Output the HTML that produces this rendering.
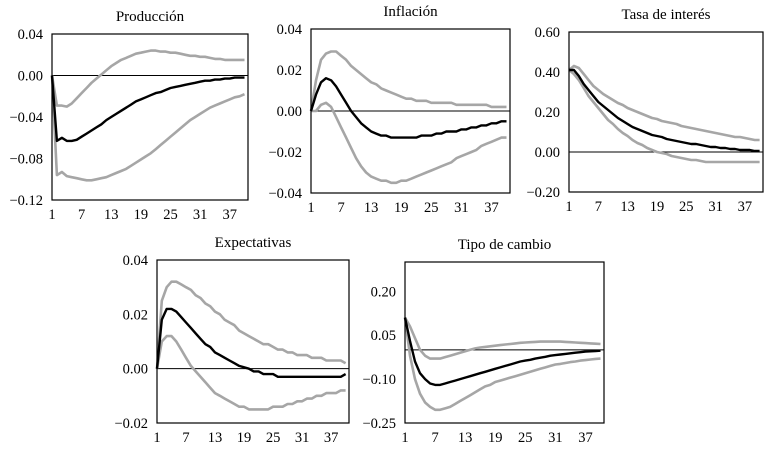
<!DOCTYPE html>
<html><head><meta charset="utf-8"><style>
body{margin:0;background:#fff;width:772px;height:456px;overflow:hidden}
svg{display:block;font-family:"Liberation Serif",serif}
</style></head><body>
<svg id="c" width="772" height="456"></svg>
<script>
const periods = Array.from({length:40},(_,i)=>i+1);
const xTickLabels = [1,7,13,19,25,31,37];
const titles = ["Producción","Inflación","Tasa de interés","Expectativas","Tipo de cambio"];
const yTicks1 = [0.04,0.00,-0.04,-0.08,-0.12];
const yTicks2 = [0.04,0.02,0.00,-0.02,-0.04];
const yTicks3 = [0.60,0.40,0.20,0.00,-0.20];
const yTicks4 = [0.04,0.02,0.00,-0.02];
const yTicks5 = [0.20,0.05,-0.10,-0.25];
const prodMid = [0,-0.063,-0.060,-0.063,-0.063,-0.062,-0.059,-0.056,-0.053,-0.050,-0.047,-0.043,-0.040,-0.037,-0.034,-0.031,-0.028,-0.025,-0.023,-0.021,-0.019,-0.017,-0.016,-0.014,-0.012,-0.011,-0.010,-0.009,-0.008,-0.007,-0.006,-0.005,-0.005,-0.004,-0.004,-0.003,-0.003,-0.002,-0.002,-0.002];
const prodUp = [0,-0.029,-0.029,-0.030,-0.027,-0.022,-0.017,-0.012,-0.007,-0.003,0.001,0.005,0.009,0.012,0.015,0.017,0.019,0.021,0.022,0.023,0.024,0.024,0.023,0.023,0.022,0.022,0.021,0.020,0.019,0.019,0.018,0.018,0.017,0.016,0.016,0.015,0.015,0.015,0.015,0.015];
const prodLo = [0,-0.096,-0.093,-0.097,-0.098,-0.099,-0.100,-0.101,-0.101,-0.100,-0.099,-0.098,-0.096,-0.094,-0.092,-0.090,-0.087,-0.084,-0.081,-0.078,-0.075,-0.071,-0.067,-0.063,-0.059,-0.055,-0.051,-0.047,-0.043,-0.040,-0.037,-0.034,-0.031,-0.029,-0.027,-0.025,-0.023,-0.021,-0.020,-0.018];
const infMid = [0,0.008,0.014,0.016,0.015,0.012,0.008,0.004,0.000,-0.003,-0.006,-0.008,-0.010,-0.011,-0.012,-0.012,-0.013,-0.013,-0.013,-0.013,-0.013,-0.013,-0.012,-0.012,-0.012,-0.011,-0.011,-0.010,-0.010,-0.010,-0.009,-0.009,-0.008,-0.008,-0.007,-0.007,-0.006,-0.006,-0.005,-0.005];
const infUp = [0,0.015,0.025,0.028,0.029,0.029,0.027,0.025,0.022,0.020,0.018,0.016,0.014,0.013,0.011,0.010,0.009,0.008,0.007,0.006,0.006,0.005,0.005,0.005,0.004,0.004,0.004,0.004,0.004,0.003,0.003,0.003,0.003,0.003,0.003,0.003,0.002,0.002,0.002,0.002];
const infLo = [0,0.000,0.003,0.004,0.002,-0.003,-0.008,-0.013,-0.018,-0.023,-0.027,-0.030,-0.032,-0.033,-0.034,-0.034,-0.035,-0.035,-0.034,-0.034,-0.033,-0.032,-0.031,-0.030,-0.029,-0.028,-0.027,-0.026,-0.025,-0.023,-0.022,-0.021,-0.020,-0.019,-0.017,-0.016,-0.015,-0.014,-0.013,-0.013];
const tasaMid = [0.41,0.41,0.38,0.34,0.31,0.28,0.25,0.23,0.21,0.19,0.17,0.155,0.14,0.125,0.115,0.105,0.095,0.085,0.08,0.075,0.065,0.06,0.055,0.05,0.045,0.04,0.04,0.035,0.03,0.025,0.025,0.02,0.02,0.015,0.015,0.01,0.01,0.01,0.005,0.005];
const tasaUp = [0.41,0.43,0.42,0.39,0.36,0.33,0.31,0.29,0.275,0.26,0.245,0.235,0.22,0.21,0.2,0.19,0.18,0.17,0.165,0.155,0.15,0.145,0.14,0.13,0.125,0.12,0.115,0.11,0.105,0.1,0.095,0.09,0.085,0.08,0.075,0.075,0.07,0.065,0.06,0.06];
const tasaLo = [0.41,0.39,0.36,0.32,0.28,0.25,0.22,0.19,0.16,0.14,0.115,0.095,0.08,0.06,0.045,0.035,0.02,0.01,0.0,-0.005,-0.01,-0.02,-0.025,-0.03,-0.035,-0.04,-0.04,-0.045,-0.05,-0.05,-0.05,-0.05,-0.05,-0.05,-0.05,-0.05,-0.05,-0.05,-0.05,-0.05];
const expMid = [0,0.018,0.022,0.022,0.021,0.019,0.017,0.015,0.013,0.011,0.009,0.008,0.006,0.005,0.004,0.003,0.002,0.001,0.0005,0,-0.001,-0.001,-0.002,-0.002,-0.002,-0.003,-0.003,-0.003,-0.003,-0.003,-0.003,-0.003,-0.003,-0.003,-0.003,-0.003,-0.003,-0.003,-0.003,-0.002];
const expUp = [0,0.025,0.030,0.032,0.032,0.031,0.030,0.029,0.027,0.026,0.024,0.023,0.021,0.020,0.018,0.017,0.016,0.014,0.013,0.012,0.011,0.010,0.009,0.009,0.008,0.007,0.007,0.006,0.006,0.005,0.005,0.005,0.004,0.004,0.004,0.003,0.003,0.003,0.003,0.002];
const expLo = [0,0.010,0.012,0.012,0.010,0.007,0.004,0.001,-0.001,-0.003,-0.005,-0.007,-0.009,-0.010,-0.011,-0.012,-0.013,-0.014,-0.014,-0.015,-0.015,-0.015,-0.015,-0.015,-0.014,-0.014,-0.014,-0.013,-0.013,-0.012,-0.012,-0.011,-0.011,-0.010,-0.010,-0.009,-0.009,-0.009,-0.008,-0.008];
const tcMid = [0.11,0.03,-0.04,-0.08,-0.10,-0.115,-0.12,-0.12,-0.115,-0.11,-0.105,-0.10,-0.095,-0.09,-0.085,-0.08,-0.075,-0.07,-0.065,-0.06,-0.055,-0.05,-0.045,-0.04,-0.037,-0.034,-0.03,-0.027,-0.024,-0.02,-0.018,-0.016,-0.014,-0.012,-0.01,-0.008,-0.006,-0.005,-0.004,-0.003];
const tcUp = [0.11,0.08,0.04,0.0,-0.02,-0.03,-0.03,-0.03,-0.025,-0.02,-0.015,-0.01,-0.005,0,0.005,0.008,0.01,0.012,0.014,0.016,0.018,0.02,0.022,0.024,0.025,0.026,0.027,0.028,0.028,0.028,0.028,0.028,0.027,0.026,0.025,0.024,0.023,0.022,0.021,0.02];
const tcLo = [0.11,-0.02,-0.10,-0.15,-0.18,-0.195,-0.205,-0.205,-0.20,-0.195,-0.185,-0.175,-0.165,-0.155,-0.145,-0.135,-0.125,-0.12,-0.11,-0.105,-0.10,-0.095,-0.09,-0.085,-0.08,-0.075,-0.07,-0.065,-0.06,-0.055,-0.05,-0.048,-0.045,-0.042,-0.04,-0.037,-0.035,-0.033,-0.031,-0.03];

const NS="http://www.w3.org/2000/svg";
const svg=document.getElementById('c');
function mk(tag,attrs,parent){const e=document.createElementNS(NS,tag);for(const k in attrs)e.setAttribute(k,attrs[k]);(parent||svg).appendChild(e);return e;}
function fmt(v){const s=Math.abs(v).toFixed(2);return (v<0?"\u22120":"0")+s.slice(1);}
function panel(p){
  const g=mk('g',{});
  
  
  const step=(p.r-p.l)/39.7;
  const X=t=>p.l+(t-1)*step;
  const Y=v=>p.t+(p.ymax-v)/(p.ymax-p.ymin)*(p.b-p.t);
  const t=mk('text',{x:(p.l+p.r)/2,y:p.t-13,'text-anchor':'middle','font-size':15},g);
  t.textContent=p.title;
  
  
  p.ticks.forEach(v=>{
    const tx=mk('text',{x:p.l-9,y:Y(v)+5,'text-anchor':'end','font-size':14.5},g);
    tx.textContent=fmt(v);
    
    
  });
  xTickLabels.forEach(v=>{
    const tx=mk('text',{x:X(v),y:p.b+19,'text-anchor':'middle','font-size':14.5},g);
    tx.textContent=v;
    
    
  });
  const z=mk('line',{x1:p.l,x2:p.r,y1:Y(0),y2:Y(0),stroke:'#000','stroke-width':1},g);
  
  
  [[p.up,'#a6a6a6',2.6,'upper-band'],[p.lo,'#a6a6a6',2.6,'lower-band'],[p.mid,'#000',2.4,'response-line']].forEach(([d,c,w,n])=>{
    const pts=periods.map((t,i)=>X(t).toFixed(1)+','+Y(d[i]).toFixed(1)).join(' ');
    const pl=mk('polyline',{points:pts,fill:'none',stroke:c,'stroke-width':w,'stroke-linejoin':'round'},g);
    
    
  });
  const box=mk('rect',{x:p.l,y:p.t,width:p.r-p.l,height:p.b-p.t,fill:'none',stroke:'#000','stroke-width':1.2},g);
  
  
}
panel({name:'produccion',title:titles[0],l:52,r:248,t:34,b:200,ymax:0.04,ymin:-0.12,ticks:yTicks1,mid:prodMid,up:prodUp,lo:prodLo});
panel({name:'inflacion',title:titles[1],l:311,r:510,t:29,b:193,ymax:0.04,ymin:-0.04,ticks:yTicks2,mid:infMid,up:infUp,lo:infLo});
panel({name:'tasa-interes',title:titles[2],l:569,r:763,t:32,b:192,ymax:0.60,ymin:-0.20,ticks:yTicks3,mid:tasaMid,up:tasaUp,lo:tasaLo});
panel({name:'expectativas',title:titles[3],l:157,r:349,t:260,b:423,ymax:0.04,ymin:-0.02,ticks:yTicks4,mid:expMid,up:expUp,lo:expLo});
panel({name:'tipo-cambio',title:titles[4],l:405,r:604,t:262,b:423,ymax:0.30,ymin:-0.25,ticks:yTicks5,mid:tcMid,up:tcUp,lo:tcLo});
</script>
</body></html>
